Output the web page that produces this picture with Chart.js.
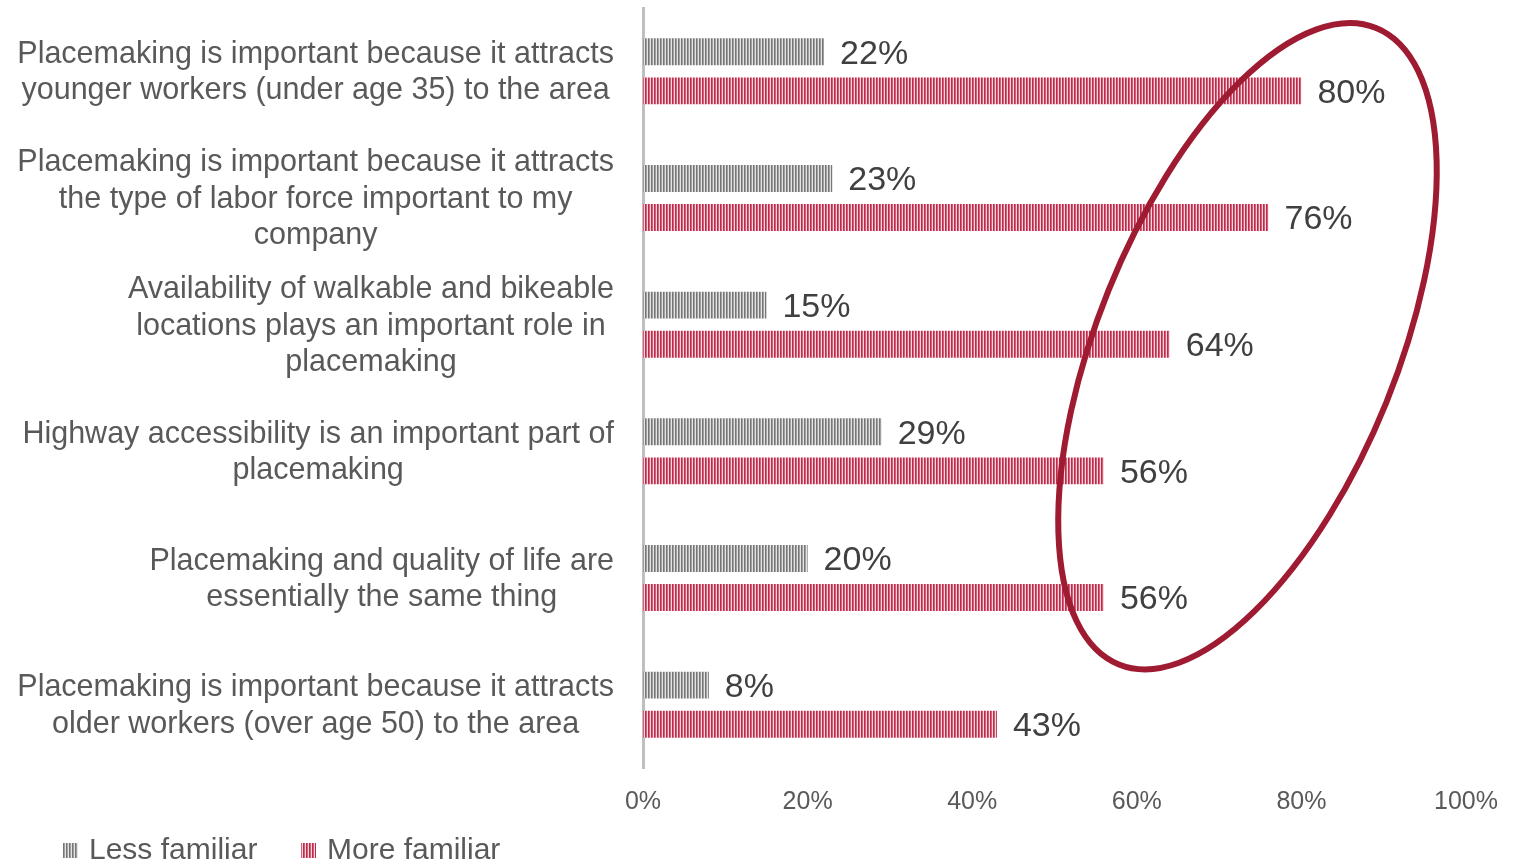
<!DOCTYPE html>
<html>
<head>
<meta charset="utf-8">
<script src="https://cdn.jsdelivr.net/npm/chart.js@4.4.1/dist/chart.umd.min.js"></script>
<style>
  html, body { margin: 0; padding: 0; background: #fff; }
  #wrap { width: 1517px; height: 865px; }
</style>
</head>
<body>
<div id="wrap"><canvas id="chart" width="1517" height="865"></canvas></div>
<script>
// ── Data ─────────────────────────────────────────────────────────────────────

const categories = [
    ['Placemaking is important because it attracts', 'younger workers (under age 35) to the area'],
    ['Placemaking is important because it attracts', 'the type of labor force important to my', 'company'],
    ['Availability of walkable and bikeable', 'locations plays an important role in', 'placemaking'],
    ['Highway accessibility is an important part of', 'placemaking'],
    ['Placemaking and quality of life are', 'essentially the same thing'],
    ['Placemaking is important because it attracts', 'older workers (over age 50) to the area']
];
const lessFamiliar = [22, 23, 15, 29, 20, 8];
const moreFamiliar = [80, 76, 64, 56, 56, 43];
const xTicks = [0, 20, 40, 60, 80, 100];

// ── Helpers ──────────────────────────────────────────────────────────────────

const FONT = '"Liberation Sans", Arial, sans-serif';

function stripes(dark, mid, light) {
    const c = document.createElement('canvas');
    c.width = 3; c.height = 1;
    const g = c.getContext('2d');
    g.fillStyle = dark;  g.fillRect(0, 0, 1, 1);
    g.fillStyle = mid;   g.fillRect(1, 0, 1, 1);
    g.fillStyle = light; g.fillRect(2, 0, 1, 1);
    return g.createPattern(c, 'repeat');
}

const grayFill = stripes('#767676', '#a0a0a0', '#e4e4e4');
const redFill  = stripes('#bd2a4a', '#d2607a', '#f6d6dd');

// Multi-line category labels, each block centred on its widest line
const categoryLabels = {
    id: 'categoryLabels',
    afterDraw(chart) {
        const { ctx, scales: { y } } = chart;
        const right = 614, lh = 36.5;
        ctx.save();
        ctx.font = `30.5px ${FONT}`;
        ctx.fillStyle = '#595959';
        ctx.textAlign = 'center';
        ctx.textBaseline = 'middle';
        categories.forEach((lines, i) => {
            const w = Math.max(...lines.map(l => ctx.measureText(l).width));
            const cx = right - w / 2;
            const cy = y.getPixelForValue(i) + 1.5;
            const top = cy - (lines.length - 1) * lh / 2;
            lines.forEach((l, k) => ctx.fillText(l, cx, top + k * lh));
        });
        ctx.restore();
    }
};

// Value labels at the end of each bar
const valueLabels = {
    id: 'valueLabels',
    afterDatasetsDraw(chart) {
        const { ctx } = chart;
        ctx.save();
        ctx.font = `34px ${FONT}`;
        ctx.fillStyle = '#404040';
        ctx.textAlign = 'left';
        ctx.textBaseline = 'middle';
        chart.data.datasets.forEach((ds, di) => {
            chart.getDatasetMeta(di).data.forEach((bar, i) => {
                ctx.fillText(ds.data[i] + '%', bar.x + 16, bar.y + 2.5);
            });
        });
        ctx.restore();
    }
};

// Bottom legend with the striped swatches
const bottomLegend = {
    id: 'bottomLegend',
    afterDraw(chart) {
        const { ctx } = chart;
        const xs = [63, 301], cy = 850;
        ctx.save();
        ctx.font = `30px ${FONT}`;
        ctx.textBaseline = 'middle';
        chart.data.datasets.forEach((ds, i) => {
            ctx.fillStyle = ds.backgroundColor;
            ctx.fillRect(xs[i], cy - 7, 15, 15);
            ctx.fillStyle = '#595959';
            ctx.fillText(ds.label, xs[i] + 26, cy + 1);
        });
        ctx.restore();
    }
};

// Highlight ring around the "more familiar" bars
const highlightRing = {
    id: 'highlightRing',
    afterDraw(chart) {
        const { ctx, scales: { x, y } } = chart;
        const pxPct = x.getPixelForValue(1) - x.getPixelForValue(0);
        const pxCat = y.getPixelForValue(1) - y.getPixelForValue(0);
        ctx.save();
        ctx.strokeStyle = '#9e1b32';
        ctx.lineWidth = 6;
        ctx.beginPath();
        ctx.ellipse(x.getPixelForValue(73.45), y.getPixelForValue(2.17),
            18.2 * pxPct, 2.71 * pxCat, 22 * Math.PI / 180, 0, Math.PI * 2);
        ctx.stroke();
        ctx.restore();
    }
};

// ── Chart ────────────────────────────────────────────────────────────────────

new Chart(document.getElementById('chart'), {
    type: 'bar',
    data: {
        labels: categories.map(c => c.join(' ')),
        datasets: [
            { label: 'Less familiar', data: lessFamiliar, backgroundColor: grayFill,
              categoryPercentage: 0.616, barPercentage: 0.69 },
            { label: 'More familiar', data: moreFamiliar, backgroundColor: redFill,
              categoryPercentage: 0.616, barPercentage: 0.69 }
        ]
    },
    options: {
        indexAxis: 'y',
        responsive: false,
        animation: false,
        devicePixelRatio: 1,
        layout: { padding: { left: 55, right: 51, top: 8, bottom: 37 } },
        plugins: {
            legend: { display: false },
            tooltip: { enabled: false }
        },
        scales: {
            y: {
                grid: { display: false },
                border: { display: true, color: '#bfbfbf', width: 3 },
                ticks: { display: false },
                afterFit(s) { s.width = 588; }
            },
            x: {
                min: 0, max: 100,
                afterBuildTicks(s) { s.ticks = xTicks.map(v => ({ value: v })); },
                grid: { display: false },
                border: { display: false },
                ticks: {
                    padding: 11,
                    color: '#595959',
                    font: { family: FONT, size: 25 },
                    callback: v => v + '%'
                },
                afterFit(s) { s.height = 60; }
            }
        }
    },
    plugins: [categoryLabels, valueLabels, bottomLegend, highlightRing]
});
</script>
</body>
</html>
